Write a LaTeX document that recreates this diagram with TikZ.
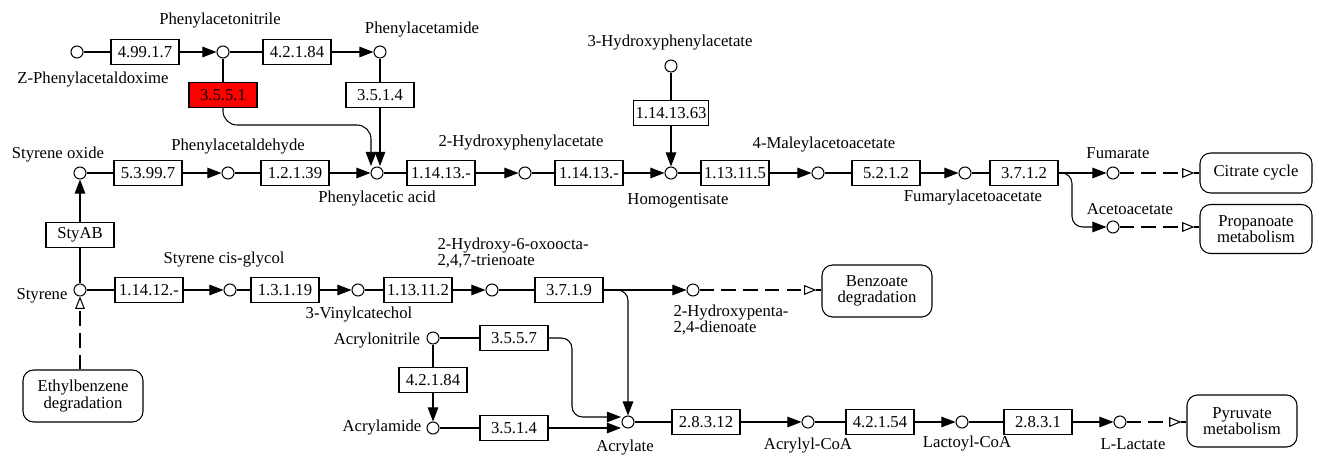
\documentclass[tikz,border=0pt]{standalone}
\usepackage{fontspec}
\setmainfont{Liberation Serif}
\usetikzlibrary{arrows.meta,calc}

\begin{document}
\begin{tikzpicture}[x=0.02cm,y=-0.02cm,line width=0.6pt,
                    font=\fontsize{9.5}{9.2}\selectfont]
  \useasboundingbox (0,0) rectangle (1319,462);

  \tikzstyle{cpd}=[circle,draw,fill=white,minimum size=0.24cm,inner sep=0pt]
  \tikzstyle{enz}=[draw,fill=white,minimum width=1.36cm,minimum height=0.5cm,inner sep=1pt]
  \tikzstyle{hit}=[enz,fill=red]
  \tikzstyle{pmap}=[draw,rounded corners=6pt,align=center,minimum width=2.2cm,minimum height=1.04cm,inner sep=2pt]
  \tikzstyle{cname}=[inner sep=0pt]
  \tikzstyle{rxn}=[-{Triangle[length=8pt,width=6pt]}]
  \tikzstyle{link}=[dash pattern=on 8pt off 4.5pt,-{Triangle[open,length=7pt,width=5.5pt]}]

  % compounds
  \node[cpd] (zpao) at (77,52) {};
  \node[cpd] (pan)  at (223,52) {};
  \node[cpd] (pam)  at (380,52) {};
  \node[cpd] (so)   at (80,173) {};
  \node[cpd] (pald) at (228,173) {};
  \node[cpd] (paa)  at (377,173) {};
  \node[cpd] (hpa2) at (525,173) {};
  \node[cpd] (hpa3) at (671,66) {};
  \node[cpd] (hga)  at (671,173) {};
  \node[cpd] (maa)  at (818,173) {};
  \node[cpd] (faa)  at (965,173) {};
  \node[cpd] (fum)  at (1113,173) {};
  \node[cpd] (aca)  at (1113,227) {};
  \node[cpd] (sty)  at (80,290) {};
  \node[cpd] (scg)  at (230,290) {};
  \node[cpd] (vc)   at (358,290) {};
  \node[cpd] (hot)  at (492,290) {};
  \node[cpd] (hpd)  at (693,290) {};
  \node[cpd] (acn)  at (433,338) {};
  \node[cpd] (acm)  at (433,428) {};
  \node[cpd] (acr)  at (628,422) {};
  \node[cpd] (acc)  at (808,422) {};
  \node[cpd] (lac)  at (962,422) {};
  \node[cpd] (llac) at (1120,422) {};

  \node[cname] (l-zpao) at (93,80)   {Z-Phenylacetaldoxime};
  \node[cname] (l-pan)  at (220,21)  {Phenylacetonitrile};
  \node[cname] (l-pam)  at (422,30)  {Phenylacetamide};
  \node[cname] (l-so)   at (58,155)  {Styrene oxide};
  \node[cname] (l-pald) at (238,147) {Phenylacetaldehyde};
  \node[cname] (l-paa)  at (377,199) {Phenylacetic acid};
  \node[cname] (l-hpa2) at (521,143) {2-Hydroxyphenylacetate};
  \node[cname] (l-hpa3) at (670,43)  {3-Hydroxyphenylacetate};
  \node[cname] (l-hga)  at (678,201) {Homogentisate};
  \node[cname] (l-maa)  at (824,145) {4-Maleylacetoacetate};
  \node[cname] (l-faa)  at (973,198) {Fumarylacetoacetate};
  \node[cname] (l-fum)  at (1118,153) {Fumarate};
  \node[cname] (l-aca)  at (1130,209) {Acetoacetate};
  \node[cname] (l-sty)  at (42,296)  {Styrene};
  \node[cname] (l-scg)  at (224,260) {Styrene cis-glycol};
  \node[cname] (l-vc)   at (359,315) {3-Vinylcatechol};
  \node[cname,anchor=west,align=left] (l-hot) at (437,253) {2-Hydroxy-6-oxoocta-\\2,4,7-trienoate};
  \node[cname,anchor=west,align=left] (l-hpd) at (673,320) {2-Hydroxypenta-\\2,4-dienoate};
  \node[cname] (l-acn)  at (377,341) {Acrylonitrile};
  \node[cname] (l-acm)  at (382,428) {Acrylamide};
  \node[cname] (l-acr)  at (625,448) {Acrylate};
  \node[cname] (l-acc)  at (808,446) {Acrylyl-CoA};
  \node[cname] (l-lac)  at (967,444) {Lactoyl-CoA};
  \node[cname] (l-llac) at (1133,444) {L-Lactate};

  % enzymes
  \node[enz] (e1)  at (145,52)  {4.99.1.7};
  \node[enz] (e2)  at (297,52)  {4.2.1.84};
  \node[hit] (e3)  at (223,95)  {3.5.5.1};
  \node[enz] (e4)  at (380,95)  {3.5.1.4};
  \node[enz] (e5)  at (148,173) {5.3.99.7};
  \node[enz] (e6)  at (295,173) {1.2.1.39};
  \node[enz] (e7)  at (441,173) {1.14.13.-};
  \node[enz] (e8)  at (589,173) {1.14.13.-};
  \node[enz] (e9)  at (671,113) {1.14.13.63};
  \node[enz] (e10) at (735,173) {1.13.11.5};
  \node[enz] (e11) at (886,173) {5.2.1.2};
  \node[enz] (e12) at (1024,173) {3.7.1.2};
  \node[enz] (e13) at (80,235)  {StyAB};
  \node[enz] (e14) at (149,290) {1.14.12.-};
  \node[enz] (e15) at (285,290) {1.3.1.19};
  \node[enz] (e16) at (418,290) {1.13.11.2};
  \node[enz] (e17) at (569,290) {3.7.1.9};
  \node[enz] (e18) at (514,338) {3.5.5.7};
  \node[enz] (e19) at (433,380) {4.2.1.84};
  \node[enz] (e20) at (514,428) {3.5.1.4};
  \node[enz] (e21) at (706,422) {2.8.3.12};
  \node[enz] (e22) at (880,422) {4.2.1.54};
  \node[enz] (e23) at (1038,422) {2.8.3.1};

  % other maps
  \node[pmap,minimum width=2.24cm,minimum height=0.8cm] (citrate) at (1256,173) {Citrate cycle};
  \node[pmap,minimum width=2.24cm,minimum height=0.98cm] (propa) at (1256,229) {Propanoate\\metabolism};
  \node[pmap] (benz) at (877,291)  {Benzoate\\degradation};
  \node[pmap] (pyr)  at (1242,421) {Pyruvate\\metabolism};
  \node[pmap,minimum width=2.4cm] (ethb) at (83,396) {Ethylbenzene\\degradation};

  \coordinate (b1) at (371,125);
  \coordinate (paa-l) at (371,166);
  \coordinate (paa-r) at (380,166);
  \coordinate (b2) at (572,338);
  \coordinate (acr-t) at (621,417);
  \coordinate (acr-b) at (621,428);
  \coordinate (b3) at (1072,173);

  % reactions
  \draw (zpao) -- (e1);  \draw[rxn] (e1) -- (pan);
  \draw (pan) -- (e2);   \draw[rxn] (e2) -- (pam);
  \draw (pan) -- (e3);   \draw[rxn,rounded corners=8pt] (e3.south) |- (b1) -- (paa-l);
  \draw (pam) -- (e4);   \draw[rxn] (e4) -- (paa-r);
  \draw (so) -- (e5);    \draw[rxn] (e5) -- (pald);
  \draw (pald) -- (e6);  \draw[rxn] (e6) -- (paa);
  \draw (paa) -- (e7);   \draw[rxn] (e7) -- (hpa2);
  \draw (hpa2) -- (e8);  \draw[rxn] (e8) -- (hga);
  \draw (hpa3) -- (e9);  \draw[rxn] (e9) -- (hga);
  \draw (hga) -- (e10);  \draw[rxn] (e10) -- (maa);
  \draw (maa) -- (e11);  \draw[rxn] (e11) -- (faa);
  \draw (faa) -- (e12);  \draw[rxn] (e12) -- (fum);
  \draw[rxn,rounded corners=6pt] (e12.east) -- (b3) |- (aca);
  \draw (sty) -- (e13);  \draw[rxn] (e13) -- (so);
  \draw (sty) -- (e14);  \draw[rxn] (e14) -- (scg);
  \draw (scg) -- (e15);  \draw[rxn] (e15) -- (vc);
  \draw (vc) -- (e16);   \draw[rxn] (e16) -- (hot);
  \draw (hot) -- (e17);  \draw[rxn] (e17) -- (hpd);
  \draw[rxn,rounded corners=6pt] (e17.east) -| (acr);
  \draw (acn) -- (e18);  \draw[rxn,rounded corners=6pt] (e18.east) -- (b2) |- (acr-t);
  \draw (acn) -- (e19);  \draw[rxn] (e19) -- (acm);
  \draw (acm) -- (e20);  \draw[rxn] (e20) -- (acr-b);
  \draw (acr) -- (e21);  \draw[rxn] (e21) -- (acc);
  \draw (acc) -- (e22);  \draw[rxn] (e22) -- (lac);
  \draw (lac) -- (e23);  \draw[rxn] (e23) -- (llac);

  % links to other maps
  \draw[link] (fum) -- ($(citrate.west)+(-5,0)$);  \draw (citrate.west) -- ++(-5,0);
  \draw[link] (aca) -- ($(propa.west |- aca)+(-5,0)$);  \draw (propa.west |- aca) -- ++(-5,0);
  \draw[link] (hpd) -- ($(benz.west |- hpd)+(-5,0)$);  \draw (benz.west |- hpd) -- ++(-5,0);
  \draw[link] (llac) -- ($(pyr.west |- llac)+(-5,0)$);  \draw (pyr.west |- llac) -- ++(-5,0);
  \draw[link] (ethb.north -| sty) -- (sty);
\end{tikzpicture}
\end{document}
